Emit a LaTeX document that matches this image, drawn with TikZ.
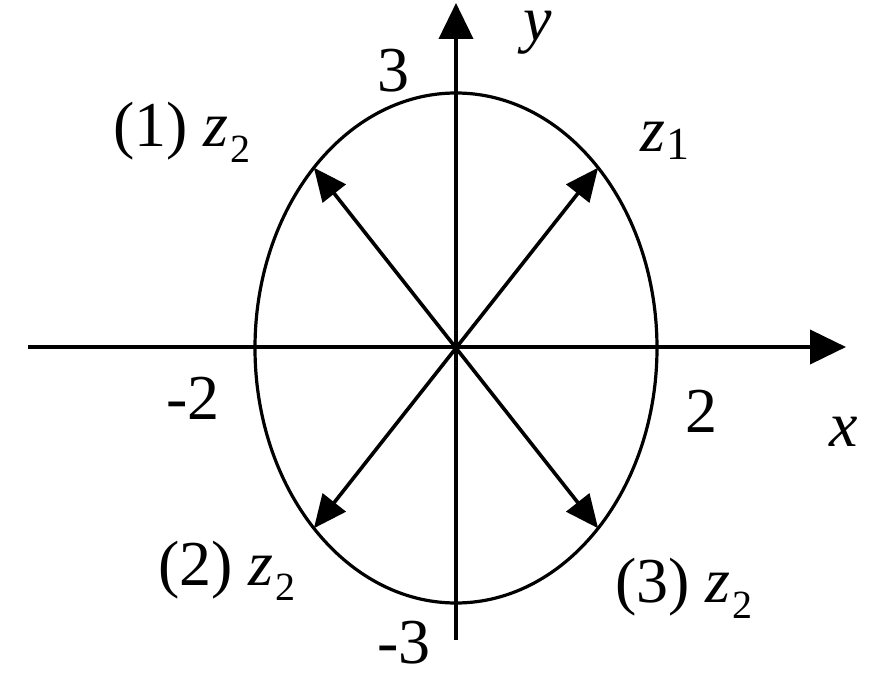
\documentclass[tikz,border=0pt]{standalone}
\usepackage{fontspec}
\setmainfont{Liberation Serif}
\usetikzlibrary{arrows.meta,calc}
\newcommand\zsubtwo{\textit{z}\kern2pt\raisebox{-16pt}{\fontsize{40}{40}\selectfont 2}}
\newcommand\zsubone{\textit{z}\kern1pt\raisebox{-8pt}{\fontsize{46}{46}\selectfont 1}}
\begin{document}
\begin{tikzpicture}[x=1pt,y=-1pt,
  axisline/.style={line width=4pt,-{Triangle[length=36pt,width=34pt]}},
  vecline/.style={line width=3.6pt,-{Triangle[length=33pt,width=29pt]}},
  curve/.style={line width=3.2pt},
  lbl/.style={inner sep=0pt,anchor=base,font=\fontsize{64}{64}\selectfont}]
\useasboundingbox (0,0) rectangle (887,692);
\coordinate (O) at (456,348);
\coordinate (xs) at (28,347);
\coordinate (xe) at (846,347);
\coordinate (ys) at (456,640);
\coordinate (ye) at (456,3);
\draw[curve] (O) ellipse [x radius=201pt, y radius=255pt];
\draw[axisline] (xs) -- (xe);
\draw[axisline] (ys) -- (ye);
\coordinate (t1) at ($(O)+(45:201pt and 255pt)$);
\coordinate (t2) at ($(O)+(135:201pt and 255pt)$);
\coordinate (t3) at ($(O)+(225:201pt and 255pt)$);
\coordinate (t4) at ($(O)+(315:201pt and 255pt)$);
\draw[vecline] (O) -- (t1);
\draw[vecline] (O) -- (t2);
\draw[vecline] (O) -- (t3);
\draw[vecline] (O) -- (t4);
\node[lbl] (l3) at (393,92) {3};
\node[lbl] (ly) at (538,41) {\textit{y}};
\node[lbl,anchor=base west] (l1z2) at (113,147) {(1) \zsubtwo};
\node[lbl,anchor=base west] (lz1) at (640,152) {\zsubone};
\node[lbl,anchor=base west] (lm2) at (166,420) {-2};
\node[lbl,anchor=base west] (l2) at (685,433) {2};
\node[lbl,anchor=base west] (lx) at (829,447) {\textit{x}};
\node[lbl,anchor=base west] (l2z2) at (158,585) {(2) \zsubtwo};
\node[lbl,anchor=base west] (l3z2) at (615,602) {(3) \zsubtwo};
\node[lbl,anchor=base west] (lm3) at (377,663) {-3};
\end{tikzpicture}
\end{document}
